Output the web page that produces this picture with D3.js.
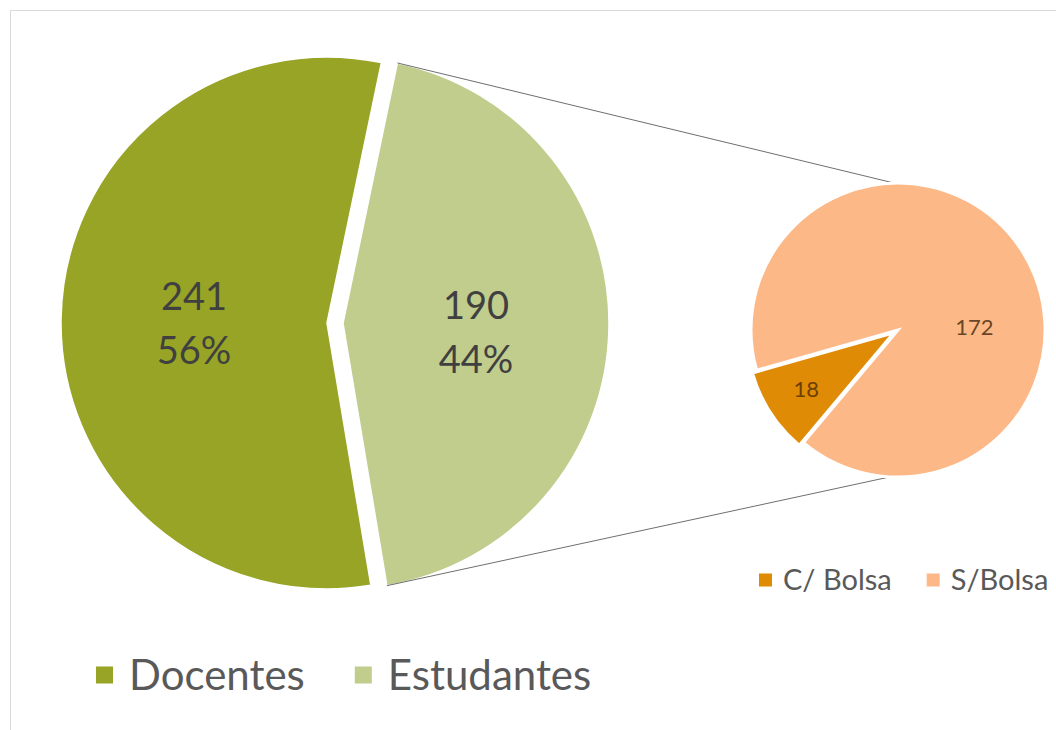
<!DOCTYPE html>
<html>
<head>
<meta charset="utf-8">
<script src="https://cdn.jsdelivr.net/npm/d3@7"></script>
<style>
  body { margin: 0; background: #fff; }
  text { font-family: Lato, "Open Sans", sans-serif; }
</style>
</head>
<body>
<svg id="chart" width="1056" height="730"></svg>
<script>
// main pie
const mainCategories = ['Docentes', 'Estudantes']
const mainValues = [241, 190]
const mainColors = ['#97a425', '#c0cd8d']

// secondary pie (breakdown of Estudantes)
const subCategories = ['C/ Bolsa', 'S/Bolsa']
const subValues = [18, 172]
const subColors = ['#e08b06', '#fdb887']

const deg = Math.PI / 180
const svg = d3.select('#chart')

// light frame round the chart area
svg.append('rect')
  .attr('x', 10.5).attr('y', 10.5)
  .attr('width', 1060).attr('height', 740)
  .attr('fill', 'none')
  .attr('stroke', '#d9d9d9')

// ---- main pie ----
const c1 = {x: 327, y: 323}
const r1 = 266
const explode1 = 16
const total1 = d3.sum(mainValues)
// Estudantes starts just right of top, so Docentes starts before it
const estStart = 11.8 * deg
const mainStart = estStart - (mainValues[0] / total1) * 2 * Math.PI
const mainPie = d3.pie().sort(null)
  .startAngle(mainStart).endAngle(mainStart + 2 * Math.PI)
const mainArcs = mainPie(mainValues)
const arc1 = d3.arc().innerRadius(0).outerRadius(r1)

function offset(a, dist) {
  const mid = (a.startAngle + a.endAngle) / 2
  return [Math.sin(mid) * dist, -Math.cos(mid) * dist]
}

const g1 = svg.append('g')
  .attr('transform', 'translate(' + c1.x + ',' + c1.y + ')')

const slices1 = g1.selectAll('g.slice')
  .data(mainArcs)
  .enter().append('g')
  .attr('class', 'slice')
  .attr('transform', function(d, i) {
    const o = i === 1 ? offset(d, explode1) : [0, 0]
    return 'translate(' + o[0] + ',' + o[1] + ')'
  })

slices1.append('path')
  .attr('d', arc1)
  .attr('fill', (d, i) => mainColors[i])
  .attr('stroke', '#fff')
  .attr('stroke-width', 1.5)

const labelArc1 = d3.arc().innerRadius(r1 * 0.5).outerRadius(r1 * 0.5)
slices1.each(function(d, i) {
  const p = labelArc1.centroid(d)
  const t = d3.select(this).append('text')
    .attr('text-anchor', 'middle')
    .attr('fill', '#404040')
    .style('font-size', '38px')
  const yShift = i === 1 ? 3 : 0
  t.append('tspan').attr('x', p[0]).attr('y', p[1] + yShift - 10).text(mainValues[i])
  t.append('tspan').attr('x', p[0]).attr('y', p[1] + yShift + 44)
    .text(Math.round(mainValues[i] / total1 * 100) + '%')
})

// ---- secondary pie ----
const c2 = {x: 898, y: 330}
const r2 = 147
const explode2 = 5
const subStart = 220 * deg
const subPie = d3.pie().sort(null)
  .startAngle(subStart).endAngle(subStart + 2 * Math.PI)
const subArcs = subPie(subValues)
const arc2 = d3.arc().innerRadius(0).outerRadius(r2)

// connector lines from the Estudantes edges to the secondary pie
const est = mainArcs[1]
const estOff = offset(est, explode1)
const connectors = [
  {from: est.startAngle, to: -1.5 * deg},
  {from: est.endAngle, to: 183 * deg}
]
svg.selectAll('line.connector')
  .data(connectors)
  .enter().append('line')
  .attr('class', 'connector')
  .attr('x1', d => c1.x + estOff[0] + Math.sin(d.from) * r1)
  .attr('y1', d => c1.y + estOff[1] - Math.cos(d.from) * r1)
  .attr('x2', d => c2.x + Math.sin(d.to) * r2)
  .attr('y2', d => c2.y - Math.cos(d.to) * r2)
  .attr('stroke', '#6f6f6f')
  .attr('stroke-width', 1)

const g2 = svg.append('g')
  .attr('transform', 'translate(' + c2.x + ',' + c2.y + ')')

const slices2 = g2.selectAll('g.slice')
  .data(subArcs)
  .enter().append('g')
  .attr('class', 'slice')
  .attr('transform', function(d, i) {
    const o = i === 0 ? offset(d, explode2) : [0, 0]
    return 'translate(' + o[0] + ',' + o[1] + ')'
  })

slices2.append('path')
  .attr('d', arc2)
  .attr('fill', (d, i) => subColors[i])
  .attr('stroke', '#fff')
  .attr('stroke-width', 3)

// label placement: C/Bolsa along its middle, S/Bolsa to the right
const subLabelPos = [
  {angle: null, radius: 0.71},
  {angle: 88 * deg, radius: 0.52}
]
slices2.append('text')
  .attr('transform', function(d, i) {
    const lp = subLabelPos[i]
    const a = lp.angle === null ? (d.startAngle + d.endAngle) / 2 : lp.angle
    return 'translate(' + Math.sin(a) * r2 * lp.radius + ',' + (-Math.cos(a) * r2 * lp.radius) + ')'
  })
  .attr('text-anchor', 'middle')
  .attr('dy', '0.35em')
  .attr('fill', (d, i) => i === 0 ? '#6b3f00' : '#6a4626')
  .style('font-size', '22px')
  .text((d, i) => subValues[i])

// ---- legends ----
function legend(items, colors, x0, gaps, y, size, box) {
  const lg = svg.append('g')
  let x = x0
  items.forEach(function(name, i) {
    lg.append('rect')
      .attr('x', x).attr('y', y - box / 2)
      .attr('width', box).attr('height', box)
      .attr('fill', colors[i])
    const t = lg.append('text')
      .attr('x', x + box + gaps.inner)
      .attr('y', y)
      .attr('dy', '0.35em')
      .attr('fill', '#595959')
      .style('font-size', size + 'px')
      .text(name)
    x = x + box + gaps.inner + t.node().getComputedTextLength() + gaps.outer
  })
}
legend(mainCategories, mainColors, 96, {inner: 16, outer: 50}, 675, 42, 17)
legend(subCategories, subColors, 759, {inner: 11, outer: 35}, 580, 29, 13)
</script>
</body>
</html>
